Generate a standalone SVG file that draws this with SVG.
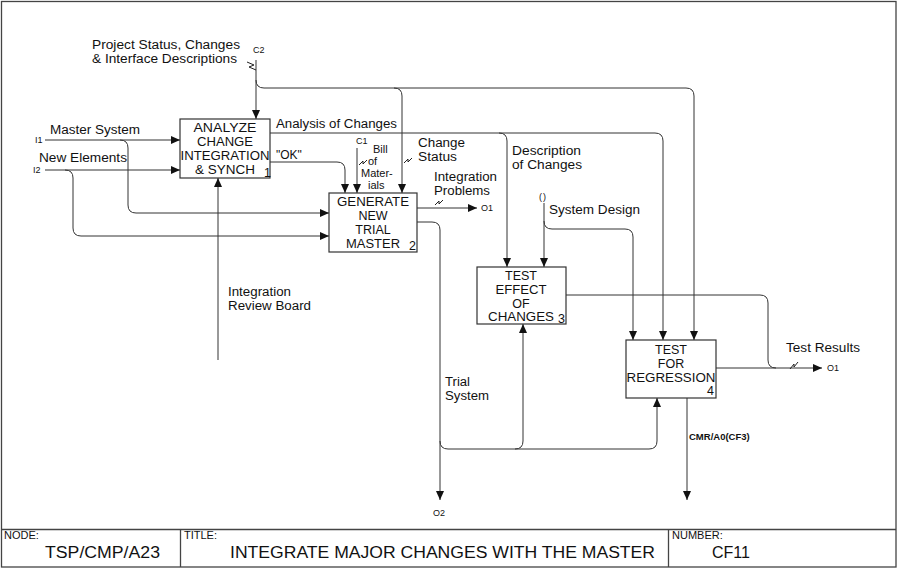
<svg xmlns="http://www.w3.org/2000/svg" width="900" height="569" viewBox="0 0 900 569">
<style>
  text { font-family: "Liberation Sans", Arial, sans-serif; fill: #111; }
  .lbl { font-size: 12px; }
  .stk { font-size: 11px; }
  .box-t { font-size: 12.5px; text-anchor: middle; }
  .num { font-size: 12.5px; }
  .tiny { font-size: 9px; }
  .cmr { font-size: 9.5px; font-weight: bold; }
  .hdr { font-size: 11px; }
  .big { font-size: 16px; }
  .box { fill: #fff; stroke: #333; stroke-width: 1.2; }
  .frame { fill: none; stroke: #444; stroke-width: 1.3; }
  .c { fill: none; stroke: #333; stroke-width: 1; }
  .arr { fill: none; stroke: #333; stroke-width: 1; marker-end: url(#ah); }
  .sq { fill: none; stroke: #222; stroke-width: 1; }
</style>
<defs>
  <marker id="ah" viewBox="0 0 9 8" refX="9" refY="4" markerWidth="9" markerHeight="8" markerUnits="userSpaceOnUse" orient="auto">
    <path d="M0,0 L9,4 L0,8 z" fill="#111"/>
  </marker>
</defs>
<rect width="900" height="569" fill="#fff"/>

<g id="frame">
  <rect class="frame" x="1.5" y="1.5" width="894.5" height="565.5"/>
  <line class="frame" x1="1.5" y1="529.5" x2="896" y2="529.5"/>
  <line class="frame" x1="180.5" y1="529.5" x2="180.5" y2="567"/>
  <line class="frame" x1="668.5" y1="529.5" x2="668.5" y2="567"/>
  <text class="hdr" x="4" y="539">NODE:</text>
  <text class="big" x="45" y="558" textLength="115" lengthAdjust="spacingAndGlyphs">TSP/CMP/A23</text>
  <text class="hdr" x="184" y="539">TITLE:</text>
  <text class="big" x="230" y="558" textLength="425" lengthAdjust="spacingAndGlyphs">INTEGRATE MAJOR CHANGES WITH THE MASTER</text>
  <text class="hdr" x="672" y="539">NUMBER:</text>
  <text class="big" x="712" y="558" textLength="38" lengthAdjust="spacingAndGlyphs">CF11</text>
</g>

<g id="connectors">
  <!-- C2 -->
  <path class="arr" d="M256,60 V119"/>
  <path class="arr" d="M256,80 Q256,88 264,88 H686 Q694,88 694,96 V340"/>
  <path class="arr" d="M394,88 Q402,88 402,96 V193"/>
  <path class="sq" d="M247,62 L254,65 L249,67 L256,70"/>
  <!-- I1 -->
  <path class="arr" d="M45,140 H180"/>
  <path class="arr" d="M120,140 Q128,140 128,148 V205 Q128,213 136,213 H329"/>
  <!-- I2 -->
  <path class="arr" d="M45,170 H180"/>
  <path class="arr" d="M65,170 Q73,170 73,178 V228 Q73,236 81,236 H329"/>
  <!-- Mechanism -->
  <path class="arr" d="M218,360 V178"/>
  <!-- Analysis of Changes -->
  <path class="arr" d="M270,133 H655 Q663,133 663,141 V340"/>
  <path class="arr" d="M499,133 Q507,133 507,141 V267"/>
  <!-- OK -->
  <path class="arr" d="M270,162 H337 Q345,162 345,170 V193"/>
  <!-- C1 -->
  <path class="arr" d="M357,148 V193"/>
  <path class="sq" d="M359,165 L363,161 L363,164 L367,160"/>
  <path class="sq" d="M404,163 L408,159 L408,162 L412,158"/>
  <!-- Integration Problems -->
  <path class="arr" d="M417,208 H477"/>
  <path class="sq" d="M435,205 L439,201 L439,204 L443,200"/>
  <!-- Trial System -->
  <path class="arr" d="M417,222 H432 Q440,222 440,230 V500"/>
  <path class="arr" d="M440,441 Q440,449 448,449 H649 Q657,449 657,441 V398"/>
  <path class="arr" d="M515,449 Q523,449 523,441 V324"/>
  <!-- System Design -->
  <path class="arr" d="M544,203 V267"/>
  <path class="arr" d="M544,221 Q544,229 552,229 H625 Q633,229 633,237 V340"/>
  <!-- Box3 output -->
  <path class="c" d="M566,295 H760 Q768,295 768,303 V360 Q768,368 776,368"/>
  <!-- Test Results -->
  <path class="arr" d="M716,368 H822"/>
  <path class="sq" d="M790,369 L794,364 L794,367 L798,362"/>
  <!-- CMR -->
  <path class="arr" d="M687,398 V500"/>

  <text class="lbl" x="92" y="49" textLength="148" lengthAdjust="spacingAndGlyphs">Project Status, Changes</text>
  <text class="lbl" x="92" y="63" textLength="145" lengthAdjust="spacingAndGlyphs">&amp; Interface Descriptions</text>
  <text class="tiny" x="253" y="53">C2</text>
  <text class="tiny" x="35" y="143">I1</text>
  <text class="lbl" x="50" y="134" textLength="90" lengthAdjust="spacingAndGlyphs">Master System</text>
  <text class="tiny" x="33" y="173">I2</text>
  <text class="lbl" x="39" y="162" textLength="88" lengthAdjust="spacingAndGlyphs">New Elements</text>
  <text class="lbl" x="228" y="296" textLength="63" lengthAdjust="spacingAndGlyphs">Integration</text>
  <text class="lbl" x="228" y="310" textLength="83" lengthAdjust="spacingAndGlyphs">Review Board</text>
  <text class="lbl" x="276" y="128" textLength="121" lengthAdjust="spacingAndGlyphs">Analysis of Changes</text>
  <text class="lbl" x="276" y="159">"OK"</text>
  <text class="tiny" x="356" y="144">C1</text>
  <text class="stk" x="373" y="153">Bill</text>
  <text class="stk" x="368" y="165">of</text>
  <text class="stk" x="361" y="177">Mater-</text>
  <text class="stk" x="368" y="189">ials</text>
  <text class="lbl" x="418" y="147" textLength="47" lengthAdjust="spacingAndGlyphs">Change</text>
  <text class="lbl" x="418" y="161" textLength="39" lengthAdjust="spacingAndGlyphs">Status</text>
  <text class="lbl" x="434" y="181" textLength="63" lengthAdjust="spacingAndGlyphs">Integration</text>
  <text class="lbl" x="434" y="195" textLength="56" lengthAdjust="spacingAndGlyphs">Problems</text>
  <text class="tiny" x="481" y="211">O1</text>
  <text class="lbl" x="512" y="155" textLength="69" lengthAdjust="spacingAndGlyphs">Description</text>
  <text class="lbl" x="512" y="169" textLength="70" lengthAdjust="spacingAndGlyphs">of Changes</text>
  <text class="tiny" x="539" y="200" letter-spacing="1">()</text>
  <text class="lbl" x="549" y="214" textLength="91" lengthAdjust="spacingAndGlyphs">System Design</text>
  <text class="lbl" x="445" y="386" textLength="25" lengthAdjust="spacingAndGlyphs">Trial</text>
  <text class="lbl" x="445" y="400" textLength="44" lengthAdjust="spacingAndGlyphs">System</text>
  <text class="tiny" x="433" y="516">O2</text>
  <text class="lbl" x="786" y="352" textLength="74" lengthAdjust="spacingAndGlyphs">Test Results</text>
  <text class="tiny" x="827" y="371">O1</text>
  <text class="cmr" x="689" y="440">CMR/A0(CF3)</text>
</g>

<g id="node1">
  <rect class="box" x="180" y="119" width="90" height="59"/>
  <text class="box-t" x="225" y="132" textLength="63" lengthAdjust="spacingAndGlyphs">ANALYZE</text>
  <text class="box-t" x="225" y="146" textLength="56" lengthAdjust="spacingAndGlyphs">CHANGE</text>
  <text class="box-t" x="225" y="160" textLength="89" lengthAdjust="spacingAndGlyphs">INTEGRATION</text>
  <text class="box-t" x="225" y="174" textLength="60" lengthAdjust="spacingAndGlyphs">&amp; SYNCH</text>
  <text class="num" x="264" y="177" font-size="11">1</text>
</g>
<g id="node2">
  <rect class="box" x="329" y="193" width="88" height="59"/>
  <text class="box-t" x="373" y="206" textLength="72" lengthAdjust="spacingAndGlyphs">GENERATE</text>
  <text class="box-t" x="373" y="220">NEW</text>
  <text class="box-t" x="373" y="234">TRIAL</text>
  <text class="box-t" x="373" y="248" textLength="54" lengthAdjust="spacingAndGlyphs">MASTER</text>
  <text class="num" x="409" y="250" font-size="14">2</text>
</g>
<g id="node3">
  <rect class="box" x="477" y="267" width="89" height="57"/>
  <text class="box-t" x="521" y="280">TEST</text>
  <text class="box-t" x="521" y="294" textLength="51" lengthAdjust="spacingAndGlyphs">EFFECT</text>
  <text class="box-t" x="521" y="308">OF</text>
  <text class="box-t" x="521" y="321" textLength="66" lengthAdjust="spacingAndGlyphs">CHANGES</text>
  <text class="num" x="558" y="323">3</text>
</g>
<g id="node4">
  <rect class="box" x="626" y="340" width="90" height="58"/>
  <text class="box-t" x="671" y="354">TEST</text>
  <text class="box-t" x="671" y="368">FOR</text>
  <text class="box-t" x="671" y="382" textLength="89" lengthAdjust="spacingAndGlyphs">REGRESSION</text>
  <text class="num" x="707" y="395">4</text>
</g>
</svg>
